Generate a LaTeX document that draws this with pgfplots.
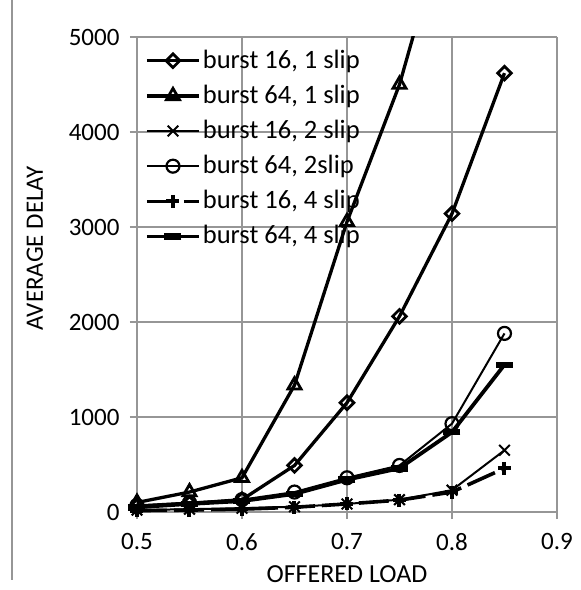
\documentclass[border=0pt]{standalone}
\usepackage{fontspec}
\setmainfont{Carlito}
\usepackage{pgfplots}
\pgfplotsset{compat=1.18}
\definecolor{gridgray}{RGB}{150,150,150}
\begin{document}
\fontsize{25}{30}\selectfont
\begin{tikzpicture}
\useasboundingbox (-137pt,-78pt) rectangle (444pt,512pt);
\draw[gridgray, line width=1.2pt] (-125pt,512pt) -- (-125pt,-68pt);
\begin{axis}[
  at={(0pt,0pt)}, anchor=south west,
  scale only axis, width=420pt, height=475pt,
  xmin=0.5, xmax=0.9, ymin=0, ymax=5000,
  xtick={0.5,0.6,0.7,0.8,0.9},
  ytick={0,1000,2000,3000,4000,5000},
  xticklabel style={/pgf/number format/fixed, /pgf/number format/fixed zerofill, /pgf/number format/precision=1, yshift=-6pt},
  yticklabel style={/pgf/number format/fixed, /pgf/number format/1000 sep={}, xshift=-2pt},
  /pgf/number format/assume math mode=true,
  scaled y ticks=false,
  grid=major,
  grid style={gridgray, line width=1.2pt},
  axis lines=left,
  axis line style={gridgray, line width=1.2pt, -},
  tick style={gridgray, line width=1.2pt},
  tick align=outside,
  major tick length=7pt,
  xlabel={OFFERED LOAD},
  ylabel={AVERAGE DELAY},
  xlabel style={at={(axis description cs:0.5,-0.13)}, anchor=center, font=\fontsize{26}{30}\selectfont},
  ylabel style={at={(axis description cs:-0.243,0.555)}, anchor=center},
  clip=true,
  legend cell align=left,
  legend style={at={(axis cs:0.5075,4890)}, anchor=north west, draw=none, fill=none,
    inner sep=0pt, row sep=9pt, font=\fontsize{26.5}{30}\selectfont},
  legend image code/.code={\draw[mark repeat=2, mark phase=2] plot coordinates {(0pt,0pt) (26pt,0pt) (52pt,0pt)};},
]
\addplot[black, line width=3.3pt, mark=square, mark size=4.8pt,
  mark options={solid, fill=white, rotate=45, line width=2.8pt}]
  coordinates {(0.5,60) (0.55,90) (0.6,130) (0.65,490) (0.7,1150) (0.75,2060) (0.8,3140) (0.85,4620)};
\addlegendentry{burst 16, 1 slip}
\addplot[black, line width=3.3pt, mark=triangle, mark size=7.5pt,
  mark options={solid, fill=white, line width=2.8pt}]
  coordinates {(0.5,100) (0.55,210) (0.6,360) (0.65,1335) (0.7,3055) (0.75,4500) (0.8,6450)};
\addlegendentry{burst 64, 1 slip}
\addplot[black, line width=2pt, mark=x, mark size=7.5pt,
  mark options={solid, line width=2pt}]
  coordinates {(0.5,20) (0.55,30) (0.6,40) (0.65,55) (0.7,85) (0.75,130) (0.8,230) (0.85,650)};
\addlegendentry{burst 16, 2 slip}
\addplot[black, line width=2pt, mark=o, mark size=6.5pt,
  mark options={solid, fill=white, line width=2.2pt}]
  coordinates {(0.5,70) (0.55,100) (0.6,130) (0.65,210) (0.7,360) (0.75,490) (0.8,930) (0.85,1880)};
\addlegendentry{burst 64, 2slip}
\addplot[black, line width=3.6pt, dash pattern=on 30pt off 7pt, mark=+, mark size=6.5pt,
  mark options={solid, line width=4pt}]
  coordinates {(0.5,15) (0.55,20) (0.6,30) (0.65,50) (0.7,85) (0.75,125) (0.8,210) (0.85,460)};
\addlegendentry{burst 16, 4 slip}
\addplot[black, line width=3.8pt, mark=-, mark size=8.5pt,
  mark options={solid, line width=6.5pt}]
  coordinates {(0.5,50) (0.55,85) (0.6,115) (0.65,190) (0.7,340) (0.75,460) (0.8,840) (0.85,1550)};
\addlegendentry{burst 64, 4 slip}
\end{axis}
\end{tikzpicture}
\end{document}
